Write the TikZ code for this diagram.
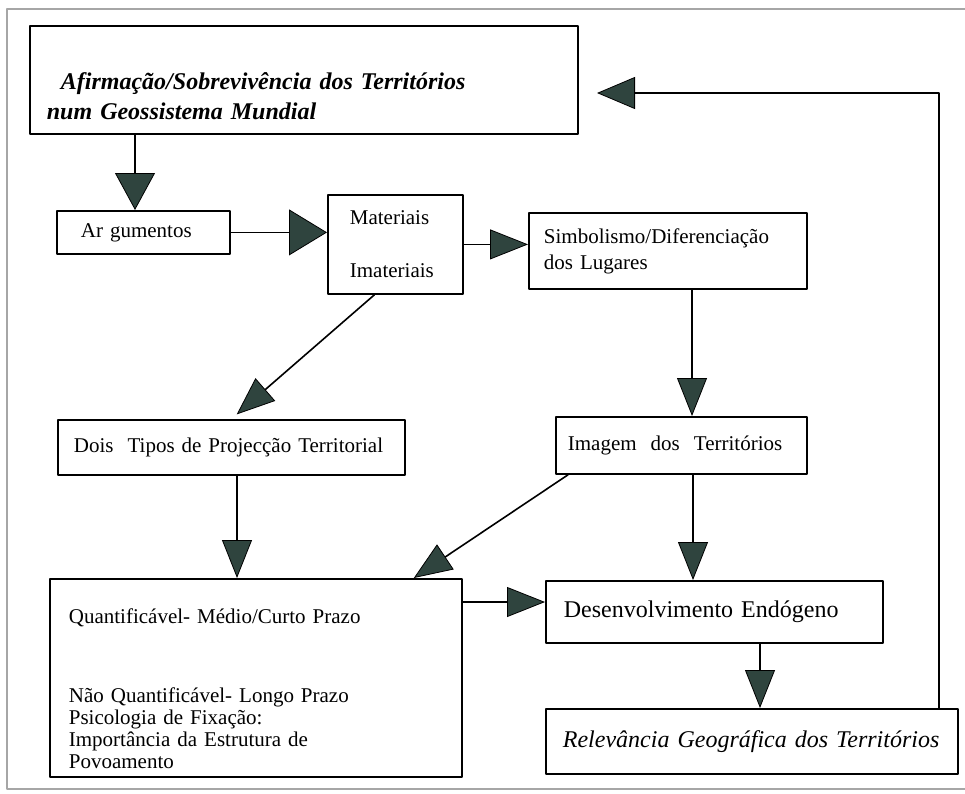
\documentclass[tikz,border=0pt]{standalone}
\usepackage{fontspec}
\setmainfont{Liberation Serif}
\usetikzlibrary{arrows.meta}
\definecolor{tipfill}{RGB}{47,68,62}

\begin{document}
\begin{tikzpicture}[x=1pt, y=-1pt, line cap=round, line join=round,
  box/.style={draw, line width=1.8pt, anchor=north west, align=left, inner ysep=0pt,
    font=\fontsize{21}{26}\selectfont},
  flow/.style={line width=1.6pt, -{Triangle[length=38pt, width=30pt, fill=tipfill, line width=0.8pt]}},
  tipwide/.style={-{Triangle[length=37pt, width=40pt, fill=tipfill, line width=0.8pt]}},
  tipfat/.style={-{Triangle[length=38pt, width=46pt, fill=tipfill, line width=0.8pt]}},
  tipback/.style={-{Triangle[length=38pt, width=32pt, fill=tipfill, line width=0.8pt]}}]
  \useasboundingbox (0,0) rectangle (965,793);

  % Scanned page frame (right side cut off)
  \draw[gray!70, line width=1.2pt] (965,9) -- (7,9) -- (7,789) -- (965,789);

  % Boxes
  \node[box, minimum width=548, minimum height=108, inner xsep=17, text width=514,
        font=\fontsize{24}{30}\selectfont\bfseries\itshape] (goal) at (29,25)
    {\rule{0pt}{49pt}\hspace{14pt}Afirmação/Sobrevivência dos Territórios\\num Geossistema Mundial};
  \node[box, minimum width=173, minimum height=43, inner xsep=24, text width=125] (args) at (56,210)
    {Ar gumentos};
  \node[box, minimum width=135, minimum height=99, inner xsep=22, text width=91] (kinds) at (327,194)
    {Materiais\\[27pt]Imateriais};
  \node[box, minimum width=278, minimum height=76, inner xsep=15, text width=248] (symb) at (528,212)
    {Simbolismo/Diferenciação\\dos Lugares};
  \node[box, minimum width=347, minimum height=55, inner xsep=16, text width=315] (proj) at (57,419)
    {Dois\ \ Tipos de Projecção Territorial};
  \node[box, minimum width=251, minimum height=57, inner xsep=12, text width=227] (image) at (555,416)
    {Imagem\ \ dos\ \ Territórios};
  \node[box, minimum width=412, minimum height=198, inner xsep=19, text width=374,
        font=\fontsize{21}{22}\selectfont] (quant) at (49,578)
    {\rule{0pt}{37pt}Quantificável- Médio/Curto Prazo\\[57pt]Não Quantificável- Longo Prazo\\
     Psicologia de Fixação:\\Importância da Estrutura de\\Povoamento};
  \node[box, minimum width=337, minimum height=62, inner xsep=18, text width=301,
        font=\fontsize{24}{28}\selectfont] (endo) at (545,580)
    {Desenvolvimento Endógeno};
  \node[box, minimum width=412, minimum height=65, inner xsep=17, text width=378,
        font=\fontsize{24}{28}\selectfont\itshape] (relev) at (545,708)
    {\mbox{Relevância Geográfica dos Territórios}};

  % Columns and rows for the straight connectors
  \coordinate (colA) at (135,0);
  \coordinate (colB) at (692,0);
  \coordinate (colC) at (693,0);
  \coordinate (colD) at (237,0);
  \coordinate (colE) at (760,0);
  \coordinate (colF) at (939,0);
  \coordinate (rowA) at (0,602);
  \coordinate (back) at (597,93);

  % Connectors
  \draw[flow, tipwide] (goal.south -| colA) -- (args.north -| colA);
  \draw[flow, tipfat] (args.east) -- (args.east -| kinds.west);
  \draw[flow] (kinds.east) -- (kinds.east -| symb.west);
  \draw[flow, shorten >=7pt] ([xshift=-21pt]kinds.south) -- (proj.north);
  \draw[flow] (symb.south -| colB) -- (image.north -| colB);
  \draw[flow] (proj.south -| colD) -- (quant.north -| colD);
  \draw[flow] ([xshift=13pt]image.south west) -- ([xshift=-49pt]quant.north east);
  \draw[flow] (image.south -| colC) -- (endo.north -| colC);
  \draw[flow] (quant.east |- rowA) -- (endo.west |- rowA);
  \draw[flow] (endo.south -| colE) -- (relev.north -| colE);
  \draw[flow, tipback] (relev.north -| colF) |- (back);
\end{tikzpicture}
\end{document}
